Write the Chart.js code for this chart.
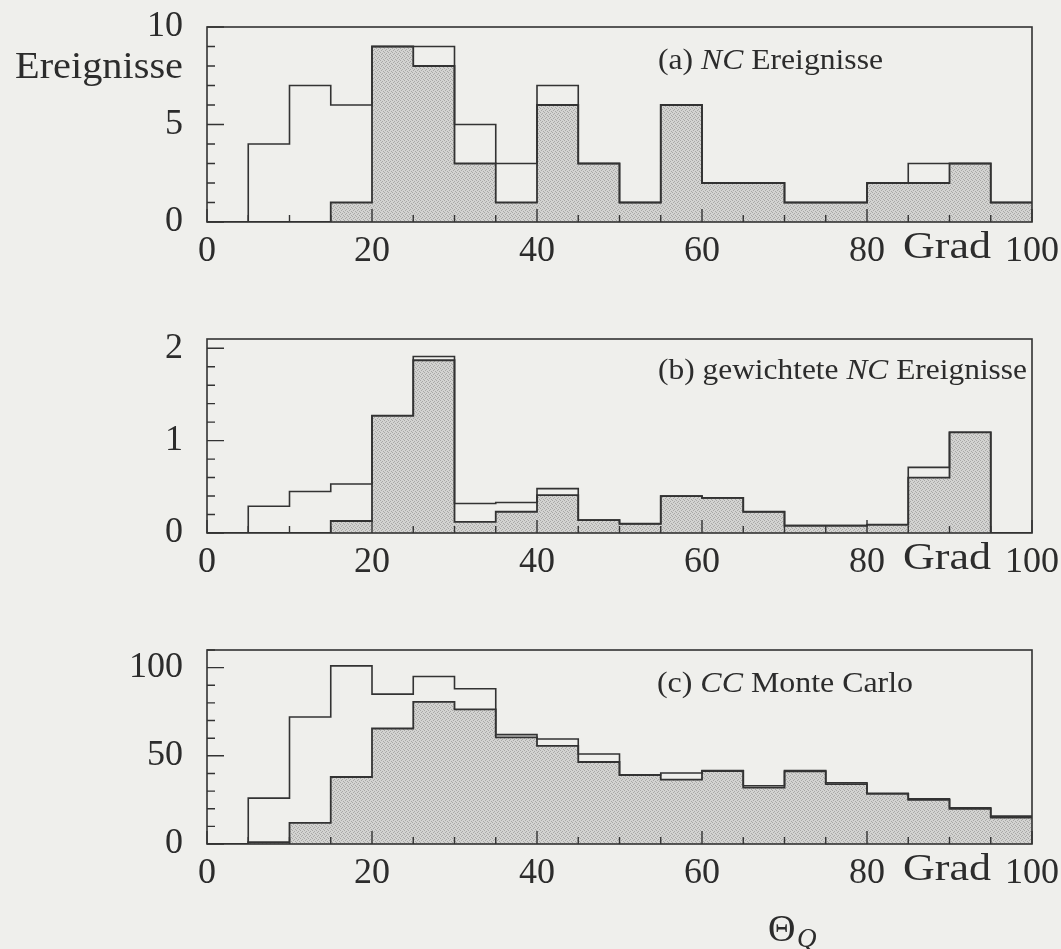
<!DOCTYPE html>
<html>
<head>
<meta charset="utf-8">
<script src="https://cdn.jsdelivr.net/npm/chart.js@4.4.1/dist/chart.umd.min.js"></script>
<style>
  html, body { margin: 0; padding: 0; background: #efefec; }
  #wrap { position: relative; width: 1061px; height: 949px; overflow: hidden; }
  canvas { position: absolute; left: 0; }
</style>
</head>
<body>
<div id="wrap">
  <canvas id="pa" width="1061" height="300" style="top:0px"></canvas>
  <canvas id="pb" width="1061" height="310" style="top:300px"></canvas>
  <canvas id="pc" width="1061" height="339" style="top:610px"></canvas>
</div>
<script>
// Θ bins of 5 degrees, 0..100
const binEdges = [0, 5, 10, 15, 20, 25, 30, 35, 40, 45, 50, 55, 60, 65, 70, 75, 80, 85, 90, 95, 100];
const xTicks = [0, 20, 40, 60, 80, 100];

// (a) NC events: all events (outline) and selected events (shaded)
const ncAll = [0, 4, 7, 6, 9, 9, 5, 3, 7, 3, 1, 6, 2, 2, 1, 1, 2, 3, 3, 1];
const ncSel = [0, 0, 0, 1, 9, 8, 3, 1, 6, 3, 1, 6, 2, 2, 1, 1, 2, 2, 3, 1];
const yTicksA = [0, 5, 10];

// (b) weighted NC events
const wAll = [0, 0.29, 0.45, 0.53, 1.27, 1.91, 0.32, 0.33, 0.48, 0.14, 0.10, 0.40, 0.38, 0.23, 0.08, 0.08, 0.09, 0.71, 1.09, 0];
const wSel = [0, 0, 0, 0.13, 1.27, 1.87, 0.12, 0.23, 0.41, 0.14, 0.10, 0.40, 0.38, 0.23, 0.08, 0.08, 0.09, 0.60, 1.09, 0];
const yTicksB = [0, 1, 2];

// (c) CC Monte Carlo
const ccAll = [0, 26, 72, 101, 85, 95, 88, 62, 59.5, 51, 39.3, 40.3, 41.6, 33, 41.6, 34.7, 28.8, 25.6, 20.5, 15.8];
const ccSel = [0, 1, 12, 38, 65.5, 80.6, 76.3, 60.5, 55.6, 46.5, 39, 36.5, 41.4, 32, 41.2, 34, 28.4, 25, 20, 15];
const yTicksC = [0, 50, 100];

const INK = '#333333';
const TEXT = '#2c2c2c';
const SERIF = '"Liberation Serif", "Times New Roman", serif';

function histPoints(values) {
  const pts = values.map((v, i) => ({ x: binEdges[i], y: v }));
  pts.push({ x: binEdges[binEdges.length - 1], y: values[values.length - 1] });
  return pts;
}

function stipple() {
  const c = document.createElement('canvas');
  c.width = 4; c.height = 4;
  const g = c.getContext('2d');
  g.fillStyle = '#d3d3d1';
  g.fillRect(0, 0, 4, 4);
  g.fillStyle = '#a8a8a6';
  [[0, 0], [2, 1], [1, 2], [3, 3]].forEach(([x, y]) => g.fillRect(x, y, 1, 1));
  return g.createPattern(c, 'repeat');
}

// draws a run of (possibly italic) text pieces, stretched to a given width
function drawRun(ctx, parts, x, y, size, targetW, family) {
  const fam = family || SERIF;
  let w = 0;
  parts.forEach(p => {
    ctx.font = (p.it ? 'italic ' : '') + size + 'px ' + fam;
    p.w = ctx.measureText(p.t).width;
    w += p.w;
  });
  const sx = targetW ? targetW / w : 1;
  ctx.save();
  ctx.translate(x, y);
  ctx.scale(sx, 1);
  ctx.fillStyle = TEXT;
  ctx.textBaseline = 'alphabetic';
  ctx.textAlign = 'left';
  let cx = 0;
  parts.forEach(p => {
    ctx.font = (p.it ? 'italic ' : '') + size + 'px ' + fam;
    ctx.fillText(p.t, cx, 0);
    cx += p.w;
  });
  ctx.restore();
}

function framePlugin(cfg) {
  return {
    id: 'frame_' + cfg.name,
    afterDraw(chart) {
      const ctx = chart.ctx;
      const a = chart.chartArea;
      const xs = chart.scales.x, ys = chart.scales.y;
      ctx.save();
      ctx.strokeStyle = INK;
      ctx.lineWidth = 1.6;
      ctx.strokeRect(a.left, a.top, a.right - a.left, a.bottom - a.top);
      // inward tick marks on the x axis
      ctx.lineWidth = 1.4;
      ctx.beginPath();
      binEdges.forEach(v => {
        const px = xs.getPixelForValue(v);
        const len = (v % 20 === 0) ? 13 : 7;
        ctx.moveTo(px, a.bottom);
        ctx.lineTo(px, a.bottom - len);
      });
      // inward tick marks on the y axis
      for (let k = 0; k * cfg.minor <= cfg.max + 1e-9; k++) {
        const v = k * cfg.minor;
        const py = ys.getPixelForValue(v);
        const major = Math.abs(v / cfg.major - Math.round(v / cfg.major)) < 1e-6;
        ctx.moveTo(a.left, py);
        ctx.lineTo(a.left + (major ? 17 : 8), py);
      }
      ctx.stroke();
      ctx.restore();
      // panel caption
      drawRun(ctx, cfg.caption, cfg.capX, cfg.capY, 30, cfg.capW);
      // unit next to the last x label
      drawRun(ctx, [{ t: 'Grad' }], 903, a.bottom + 36, 37, 88);
      if (cfg.extra) cfg.extra(ctx, chart);
    }
  };
}

// plot area of every panel on its own canvas
const AREA = { left: 207, right: 1032 };

function makePanel(id, cfg) {
  const pattern = stipple();
  const canvas = document.getElementById(id);
  const H = canvas.height;
  return new Chart(canvas, {
    type: 'line',
    data: {
      datasets: [
        {
          data: histPoints(cfg.all),
          stepped: true,
          fill: false,
          borderColor: INK,
          borderWidth: 1.6,
          pointRadius: 0,
          order: 0
        },
        {
          data: histPoints(cfg.sel),
          stepped: true,
          fill: 'origin',
          backgroundColor: pattern,
          borderColor: INK,
          borderWidth: 1.8,
          pointRadius: 0,
          order: 1
        }
      ]
    },
    options: {
      responsive: false,
      animation: false,
      devicePixelRatio: 1,
      events: [],
      layout: { padding: { top: cfg.top, right: 1061 - AREA.right, left: 0, bottom: 0 } },
      plugins: { legend: { display: false }, tooltip: { enabled: false } },
      scales: {
        x: {
          type: 'linear',
          min: 0, max: 100,
          afterBuildTicks: s => { s.ticks = xTicks.map(v => ({ value: v })); },
          afterFit: s => {
            s.height = H - cfg.bottom;
            s.paddingLeft = 0; s.paddingRight = 0;
          },
          grid: { display: false, drawTicks: false },
          border: { display: false },
          ticks: {
            autoSkip: false, maxRotation: 0, padding: 8,
            color: TEXT,
            font: { family: SERIF, size: 36 }
          }
        },
        y: {
          type: 'linear',
          min: 0, max: cfg.max,
          afterBuildTicks: s => { s.ticks = cfg.yTicks.map(v => ({ value: v })); },
          afterFit: s => {
            s.width = AREA.left;
            s.paddingTop = 0; s.paddingBottom = 0;
          },
          grid: { display: false, drawTicks: false },
          border: { display: false },
          ticks: {
            padding: 24,
            color: TEXT,
            font: { family: SERIF, size: 36 }
          }
        }
      }
    },
    plugins: [framePlugin(cfg)]
  });
}

makePanel('pa', {
  name: 'a', all: ncAll, sel: ncSel, yTicks: yTicksA,
  max: 10, minor: 1, major: 5, top: 27, bottom: 222,
  caption: [{ t: '(a) ' }, { t: 'NC', it: true }, { t: ' Ereignisse' }],
  capX: 658, capY: 69, capW: 225,
  extra: ctx => drawRun(ctx, [{ t: 'Ereignisse' }], 15, 78, 37, 168)
});

makePanel('pb', {
  name: 'b', all: wAll, sel: wSel, yTicks: yTicksB,
  max: 2.1, minor: 0.2, major: 1, top: 39, bottom: 233,
  caption: [{ t: '(b) gewichtete ' }, { t: 'NC', it: true }, { t: ' Ereignisse' }],
  capX: 658, capY: 79, capW: 369
});

makePanel('pc', {
  name: 'c', all: ccAll, sel: ccSel, yTicks: yTicksC,
  max: 110, minor: 10, major: 50, top: 40, bottom: 234,
  caption: [{ t: '(c) ' }, { t: 'CC', it: true }, { t: ' Monte Carlo' }],
  capX: 657, capY: 82, capW: 256,
  extra: ctx => {
    drawRun(ctx, [{ t: 'Θ' }], 768, 331, 38, 0);
    drawRun(ctx, [{ t: 'Q', it: true }], 797, 337, 27, 0);
  }
});
</script>
</body>
</html>
